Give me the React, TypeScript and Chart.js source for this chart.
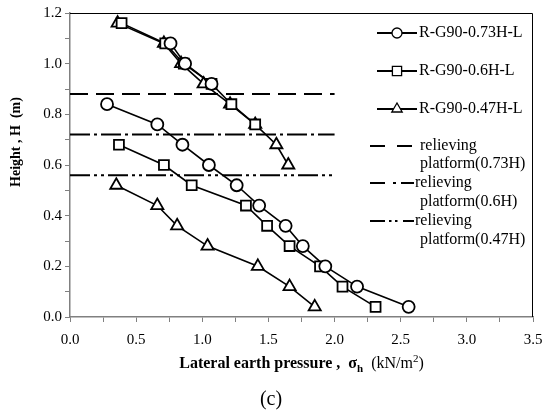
import React, { useEffect, useRef } from 'react';
import { Chart, registerables } from 'chart.js';

Chart.register(...registerables);

// Heights (m) at which lateral earth pressure was measured
const heights = [1.16, 1.08, 1.0, 0.92, 0.84, 0.76, 0.68, 0.6, 0.52, 0.44, 0.36, 0.28, 0.2, 0.12, 0.04];

// R-G90-0.73H-L (circles): above and below the relieving platform
const circleUpper = [null, 0.76, 0.87, 1.07, null, null, null, null, null, null, null, null, null, null, null];
const circleLower = [null, null, null, null, 0.28, 0.66, 0.85, 1.05, 1.26, 1.43, 1.63, 1.76, 1.93, 2.17, 2.56];

// R-G90-0.6H-L (squares)
const squareUpper = [0.39, 0.72, 0.86, 1.07, 1.22, 1.4, null, null, null, null, null, null, null, null, null];
const squareLower = [null, null, null, null, null, null, 0.37, 0.71, 0.92, 1.33, 1.49, 1.66, 1.89, 2.06, 2.31];

// R-G90-0.47H-L (triangles)
const triangleUpper = [0.36, 0.71, 0.84, 1.01, 1.21, 1.4, 1.56, 1.65, null, null, null, null, null, null, null];
const triangleLower = [null, null, null, null, null, null, null, null, 0.35, 0.66, 0.81, 1.04, 1.42, 1.66, 1.85];

// Relieving platform levels (m) and their horizontal extent (kN/m2)
const platformLevels = [0.88, 0.72, 0.56];
const platformExtent = [0, 2.0];

const legendSeries = ['R-G90-0.73H-L', 'R-G90-0.6H-L', 'R-G90-0.47H-L'];
const legendPlatforms = [
  ['relieving', 'platform(0.73H)'],
  ['relieving', 'platform(0.6H)'],
  ['relieving', 'platform(0.47H)'],
];

const SERIF = '"Liberation Serif", "Times New Roman", serif';

function toPoints(arr: (number | null)[]) {
  const pts: { x: number; y: number }[] = [];
  heights.forEach((h, i) => {
    const v = arr[i];
    if (v !== null && v !== undefined) pts.push({ x: v, y: h });
  });
  return pts;
}

function platformPoints(level: number) {
  return platformExtent.map((x) => ({ x, y: level }));
}

function drawMarker(ctx: CanvasRenderingContext2D, style: string, x: number, y: number, r: number) {
  ctx.save();
  ctx.beginPath();
  if (style === 'circle') {
    ctx.arc(x, y, r, 0, Math.PI * 2);
  } else if (style === 'rect') {
    const s = r * Math.SQRT1_2;
    ctx.rect(x - s, y - s, 2 * s, 2 * s);
  } else {
    const h = r * 1.5;
    const w = r * Math.sqrt(3) / 2;
    ctx.moveTo(x, y - r);
    ctx.lineTo(x + w, y + h - r);
    ctx.lineTo(x - w, y + h - r);
    ctx.closePath();
  }
  ctx.fillStyle = '#fff';
  ctx.fill();
  ctx.lineWidth = 1.3;
  ctx.strokeStyle = '#000';
  ctx.stroke();
  ctx.restore();
}

const decorPlugin = {
  id: 'decor',
  afterDraw(chart: any) {
    const ctx: CanvasRenderingContext2D = chart.ctx;
    const a = chart.chartArea;
    ctx.save();
    // top and right frame
    ctx.strokeStyle = '#000';
    ctx.lineWidth = 1;
    ctx.beginPath();
    ctx.moveTo(a.left, a.top + 0.5);
    ctx.lineTo(a.right - 0.5, a.top + 0.5);
    ctx.lineTo(a.right - 0.5, a.bottom);
    ctx.stroke();

    // legend
    ctx.fillStyle = '#000';
    ctx.font = `16px ${SERIF}`;
    ctx.textBaseline = 'middle';
    ctx.textAlign = 'left';
    const styles = ['circle', 'rect', 'triangle'];
    const radii = [5, 6.5, 6];
    const rowsY = [33, 71, 109];
    legendSeries.forEach((label, i) => {
      const y = rowsY[i];
      ctx.strokeStyle = '#000';
      ctx.lineWidth = 2;
      ctx.setLineDash([]);
      ctx.beginPath();
      ctx.moveTo(377, y);
      ctx.lineTo(417, y);
      ctx.stroke();
      drawMarker(ctx, styles[i], 397, y, radii[i]);
      ctx.fillStyle = '#000';
      ctx.fillText(label, 419, y);
    });

    const segs = [
      [[370, 385], [397, 412]],
      [[370, 385], [393, 396], [401, 414]],
      [[370, 385], [389, 391.5], [395, 397.5], [403, 414]],
    ];
    const pY = [146, 183, 221];
    const pY2 = [164, 202, 240];
    const textX = [420, 415, 415];
    legendPlatforms.forEach((lines, i) => {
      ctx.strokeStyle = '#000';
      ctx.lineWidth = 2;
      segs[i].forEach(([x0, x1]) => {
        ctx.beginPath();
        ctx.moveTo(x0, pY[i]);
        ctx.lineTo(x1, pY[i]);
        ctx.stroke();
      });
      ctx.fillStyle = '#000';
      ctx.fillText(lines[0], textX[i], pY[i]);
      ctx.fillText(lines[1], 420, pY2[i]);
    });

    // y-axis title
    ctx.save();
    ctx.translate(16, 142);
    ctx.rotate(-Math.PI / 2);
    ctx.font = `bold 14px ${SERIF}`;
    ctx.textAlign = 'center';
    ctx.textBaseline = 'middle';
    ctx.fillText('Height , H  (m)', 0, 0);
    ctx.restore();

    // x-axis title with subscript and superscript
    const parts = [
      { t: 'Lateral earth pressure ,  \u03C3', f: `bold 16px ${SERIF}`, dy: 0 },
      { t: 'h', f: `bold 11px ${SERIF}`, dy: 4 },
      { t: '  (kN/m', f: `16px ${SERIF}`, dy: 0 },
      { t: '2', f: `11px ${SERIF}`, dy: -6 },
      { t: ')', f: `16px ${SERIF}`, dy: 0 },
    ];
    let total = 0;
    parts.forEach((p) => {
      ctx.font = p.f;
      total += ctx.measureText(p.t).width;
    });
    let x = (a.left + a.right) / 2 - total / 2;
    const base = 368;
    ctx.textAlign = 'left';
    ctx.textBaseline = 'alphabetic';
    parts.forEach((p) => {
      ctx.font = p.f;
      ctx.fillText(p.t, x, base + p.dy);
      x += ctx.measureText(p.t).width;
    });

    // caption
    ctx.font = `20px ${SERIF}`;
    ctx.textAlign = 'center';
    ctx.textBaseline = 'middle';
    ctx.fillText('(c)', 271, 400);
    ctx.restore();
  },
};

export default function App() {
  const ref = useRef<HTMLCanvasElement | null>(null);
  useEffect(() => {
    if (!ref.current) return;
    const seriesStyle = (style: string, r: number) => ({
      showLine: true,
      borderColor: '#000',
      borderWidth: 1.6,
      pointStyle: style,
      pointRadius: r,
      pointHoverRadius: r,
      pointBackgroundColor: '#fff',
      pointBorderColor: '#000',
      pointBorderWidth: 1.8,
      backgroundColor: '#fff',
      tension: 0,
    });
    const dashes = [[18, 8], [20, 4, 3, 4], [20, 4, 3, 4, 3, 4]];
    const platformSets = platformLevels.map((lv, i) => ({
      data: platformPoints(lv),
      showLine: true,
      borderColor: '#000',
      borderWidth: 2,
      borderDash: dashes[i],
      pointRadius: 0,
      pointHoverRadius: 0,
    }));
    const chart = new Chart(ref.current, {
      type: 'scatter',
      data: {
        datasets: [
          { data: toPoints(circleUpper), ...seriesStyle('circle', 6) },
          { data: toPoints(circleLower), ...seriesStyle('circle', 6) },
          { data: toPoints(squareUpper), ...seriesStyle('rect', 7) },
          { data: toPoints(squareLower), ...seriesStyle('rect', 7) },
          { data: toPoints(triangleUpper), ...seriesStyle('triangle', 7) },
          { data: toPoints(triangleLower), ...seriesStyle('triangle', 7) },
          ...platformSets,
        ] as any,
      },
      options: {
        animation: false,
        responsive: false,
        events: [],
        layout: { padding: { top: 13, right: 10, left: 0, bottom: 0 } },
        plugins: { legend: { display: false }, tooltip: { enabled: false }, title: { display: false } },
        scales: {
          x: {
            type: 'linear',
            min: 0,
            max: 3.5,
            afterFit: (s: any) => {
              s.height = 98;
              s.paddingLeft = 0;
              s.paddingRight = 0;
            },
            ticks: {
              stepSize: 0.25,
              autoSkip: false,
              maxRotation: 0,
              padding: 9,
              color: '#000',
              font: { family: SERIF, size: 15 },
              callback: (v: any) => (Math.round(Number(v) * 100) % 50 === 0 ? Number(v).toFixed(1) : ''),
            },
            grid: { drawOnChartArea: false, drawTicks: true, tickLength: 5, color: '#808080', lineWidth: 1 },
            border: { display: true, color: '#808080', width: 1.5 },
          },
          y: {
            type: 'linear',
            min: 0,
            max: 1.2,
            afterFit: (s: any) => {
              s.width = 70;
              s.paddingTop = 0;
              s.paddingBottom = 0;
            },
            ticks: {
              stepSize: 0.1,
              autoSkip: false,
              padding: 3,
              color: '#000',
              font: { family: SERIF, size: 15 },
              callback: (v: any) => (Math.round(Number(v) * 100) % 20 === 0 ? Number(v).toFixed(1) : ''),
            },
            grid: { drawOnChartArea: false, drawTicks: true, tickLength: 5, color: '#808080', lineWidth: 1 },
            border: { display: true, color: '#808080', width: 1.5 },
          },
        },
      } as any,
      plugins: [decorPlugin],
    });
    return () => chart.destroy();
  }, []);
  return (
    <div style={{ position: 'absolute', left: 0, top: 0, width: 543, height: 415, background: '#fff' }}>
      <canvas ref={ref} width={543} height={415} />
    </div>
  );
}
